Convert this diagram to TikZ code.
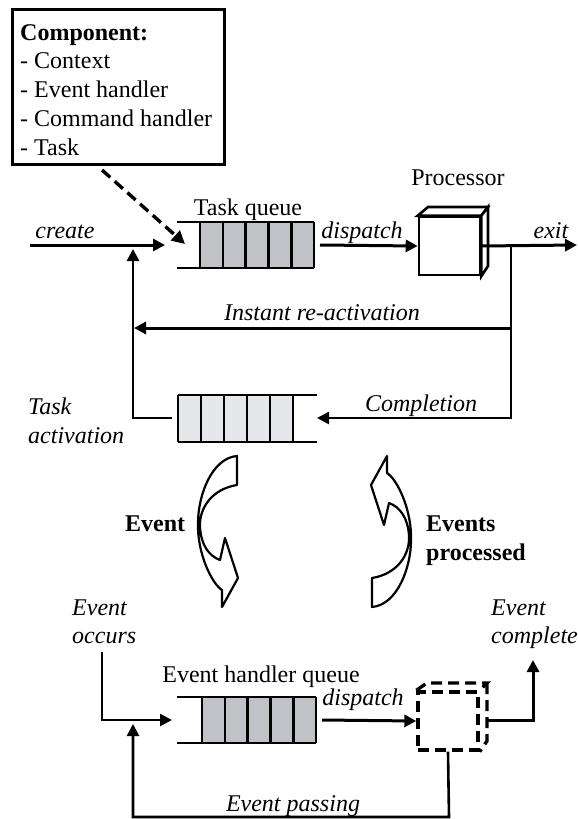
\documentclass[tikz,border=0pt]{standalone}
\usepackage{fontspec}
\setmainfont{Liberation Serif}
\usetikzlibrary{arrows.meta}
\definecolor{qdark}{RGB}{192,194,200}
\definecolor{qlight}{RGB}{230,231,234}
\begin{document}
\begin{tikzpicture}[x=1pt,y=-1pt,
  txt/.style={font=\fontsize{24}{28.75}\selectfont, inner sep=0pt},
  itx/.style={font=\fontsize{24}{28.75}\selectfont\itshape, inner sep=0pt},
  bfx/.style={font=\fontsize{24}{28.75}\selectfont\bfseries, inner sep=0pt},
  conn/.style={line width=2.6pt},
  arr/.style={line width=3pt, -{Triangle[length=12pt,width=12pt]}},
  thinarr/.style={line width=2.6pt, -{Triangle[length=12pt,width=12pt]}},
  qedge/.style={line width=2.6pt},
  curv/.style={line width=2.2pt, fill=white, line join=round},
  dsh/.style={line width=3.4pt, dash pattern=on 11pt off 6pt}
]
\useasboundingbox (0,0) rectangle (578,819);

% component box
\node[draw, line width=2.6pt, minimum width=212pt, minimum height=155pt, anchor=north west, inner sep=0pt] (comp) at (11,8) {};
\node[txt, align=left, anchor=north west] (comptext) at (20,19.9) {\strut\textbf{Component:}\\- Context\\- Event handler\\- Command handler\\- Task};
\coordinate (dstart) at (102,170);
\coordinate (dend) at (185,244);
\draw[dsh, -{Triangle[length=13pt,width=13pt]}] (dstart) -- (dend);

% task queue
\fill[qdark] (200,222) rectangle (314,268);
\foreach \i in {0,...,5} \draw[qedge] ({200+\i*22.8},222) -- ({200+\i*22.8},268);
\draw[qedge] (177,222) -- (314,222) (177,268) -- (314,268);
\node[minimum width=137pt, minimum height=46pt, inner sep=0pt] (tq) at (245.5,245) {};
\node[txt, anchor=base] (tqlabel) at (248,215) {Task queue};

% processor
\node[draw, fill=white, line width=2.6pt, minimum width=61pt, minimum height=58pt, inner sep=0pt] (proc) at (449.5,246) {};
\draw[line width=2.6pt, fill=white] (proc.north west) -- (428,207) -- (488,207) -- (proc.north east) -- cycle;
\draw[line width=2.6pt, fill=white] (proc.north east) -- (488,207) -- (488,266) -- (proc.south east) -- cycle;
\node[txt, anchor=base] (proclabel) at (458,185) {Processor};

% arrows top
\coordinate (cstart) at (30,245);
\coordinate (q1in) at (165,245);
\draw[arr] (cstart) -- (q1in);
\node[itx, anchor=base] (create) at (65,238) {create};
\coordinate (q1out) at (320,245);
\draw[arr] (q1out) -- (proc.west);
\node[itx, anchor=base] (disp1) at (362,238) {dispatch};
\coordinate (exitend) at (577,245);
\draw[arr] (proc.east) -- (exitend);
\node[itx, anchor=base] (exitlbl) at (551,238) {exit};

% loop
\coordinate (rtop) at (511,245);
\coordinate (rmid) at (511,328);
\coordinate (instend) at (134,328);
\coordinate (q2in) at (317,418);
\draw[thinarr] (rtop) -- (511,418) -- (q2in);
\draw[arr] (rmid) -- (instend);
\node[itx, anchor=base] (instlbl) at (322,320) {Instant re-activation};
\node[itx, anchor=base] (compllbl) at (421,411) {Completion};

% lower task queue
\fill[qlight] (178,395) rectangle (293,442);
\foreach \i in {0,...,5} \draw[qedge] ({178+\i*23},395) -- ({178+\i*23},442);
\draw[qedge] (178,395) -- (317,395) (178,442) -- (317,442);
\node[minimum width=139pt, minimum height=47pt, inner sep=0pt] (aq) at (247.5,418.5) {};
\coordinate (q2out) at (172,418);
\coordinate (actend) at (133,249);
\draw[thinarr] (q2out) -- (133,418) -- (actend);
\node[itx, anchor=base west] (tasklbl) at (28,414) {Task};
\node[itx, anchor=base west] (actlbl) at (28,443) {activation};

% curved arrows
\draw[curv] (237,456) -- (237,485) .. controls (212,489) and (199,508) .. (200,527) .. controls (201,545) and (209,556) .. (220,560) -- (225,538) -- (238,578) -- (222,607) -- (222,590) .. controls (212,584) and (197,553) .. (198,523) .. controls (198,495) and (212,458) .. (237,456) -- cycle;
\begin{scope}[rotate around={180:(304.5,531.5)}]
\draw[curv] (237,456) -- (237,485) .. controls (212,489) and (199,508) .. (200,527) .. controls (201,545) and (209,556) .. (220,560) -- (225,538) -- (238,578) -- (222,607) -- (222,590) .. controls (212,584) and (197,553) .. (198,523) .. controls (198,495) and (212,458) .. (237,456) -- cycle;
\end{scope}
\node[bfx, anchor=base west] (evlbl) at (125,531) {Event};
\node[bfx, anchor=base west] (evslbl) at (426,531) {Events};
\node[bfx, anchor=base west] (proclbl2) at (426,560) {processed};

% event handler queue
\fill[qdark] (202,697) rectangle (316,743);
\foreach \i in {0,...,5} \draw[qedge] ({202+\i*22.8},697) -- ({202+\i*22.8},743);
\draw[qedge] (177,697) -- (316,697) (177,743) -- (316,743);
\node[minimum width=139pt, minimum height=46pt, inner sep=0pt] (eq) at (246.5,720) {};
\node[txt, anchor=base] (eqlabel) at (261,682) {Event handler queue};

% event handler (dashed)
\node[draw, dsh, minimum width=60pt, minimum height=58pt, inner sep=0pt] (eh) at (448,721) {};
\draw[dsh] (eh.north west) -- (427,683) -- (487,683) -- (eh.north east);
\draw[dsh] (487,683) -- (487,741) -- (eh.south east);

% bottom arrows
\coordinate (occstart) at (102,652);
\coordinate (q3in) at (172,720);
\draw[thinarr] (occstart) -- (102,720) -- (q3in);
\node[itx, anchor=base west] (occ1) at (72,615) {Event};
\node[itx, anchor=base west] (occ2) at (72,643) {occurs};
\coordinate (q3out) at (322,720);
\draw[arr] (q3out) -- (eh.west);
\node[itx, anchor=base] (disp2) at (363,705) {dispatch};
\coordinate (ehright) at (487,720);
\coordinate (cplend) at (533,660);
\draw[arr] (ehright) -- (533,720) -- (cplend);
\node[itx, anchor=base west] (cpl1) at (491,615) {Event};
\node[itx, anchor=base west] (cpl2) at (491,643) {complete};
\coordinate (passend) at (133,724);
\draw[thinarr] (eh.south) -- (449,817) -- (133,817) -- (passend);
\node[itx, anchor=base] (passlbl) at (293,811) {Event passing};
\end{tikzpicture}
\end{document}
